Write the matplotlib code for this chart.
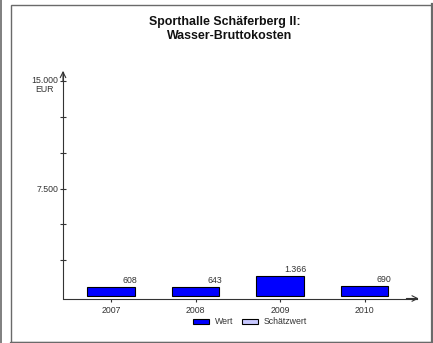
import matplotlib.pyplot as plt
from matplotlib.patches import Patch, Rectangle
from matplotlib.lines import Line2D

plt.rcParams['font.family'] = ['Liberation Sans', 'DejaVu Sans']

# data
years = ['2007', '2008', '2009', '2010']
wert = [608, 643, 1366, 690]
value_labels = ['608', '643', '1.366', '690']
y_ticks = [2500, 5000, 7500, 10000, 12500, 15000]
y_tick_labels = ['', '', '7.500', '', '', '']

W, H = 433, 343
fig = plt.figure(figsize=(W / 100, H / 100), dpi=100)

# outer frame lines
frame_col = '#6a6a6a'
fig.add_artist(Line2D([0.8 / W, 0.8 / W], [0, 1], color=frame_col, lw=1.2))
fig.add_artist(Rectangle((10.5 / W, 1 - 342 / H), (431.5 - 10.5) / W, (342 - 4.5) / H,
                         transform=fig.transFigure, fill=False, edgecolor=frame_col, lw=1.0))
fig.add_artist(Line2D([432 / W, 432 / W], [1 - 342.5 / H, 1 - 4 / H], color=frame_col, lw=1.6))
fig.add_artist(Line2D([10.5 / W, 432.5 / W], [1 - 342.5 / H, 1 - 342.5 / H], color=frame_col, lw=1.6))

ax = fig.add_axes([63 / W, 44.5 / H, (417 - 63) / W, (298.5 - 72) / H])
ax.patch.set_alpha(0)

x = range(len(years))
bars = ax.bar(x, wert, width=0.56, color='#0000ff', edgecolor='black', linewidth=0.8)
ax.set_xlim(-0.567, 3.617)
ax.set_ylim(-175, 15630)

for b, lab in zip(bars, value_labels):
    ax.annotate(lab, (b.get_x() + b.get_width(), b.get_height()), xytext=(2, 1.5),
                textcoords='offset points', ha='right', va='bottom', fontsize=6.3, color='#333333')

for s in ['top', 'right']:
    ax.spines[s].set_visible(False)
for s in ['left', 'bottom']:
    ax.spines[s].set_color('#333333')
    ax.spines[s].set_linewidth(0.8)

# arrow heads on the axes
ax.annotate('', xy=(1.005, 0), xytext=(0.97, 0), xycoords='axes fraction',
            arrowprops=dict(arrowstyle='->', color='#333333', lw=0.8, shrinkA=0, shrinkB=0))
ax.annotate('', xy=(0, 1.005), xytext=(0, 0.96), xycoords='axes fraction',
            arrowprops=dict(arrowstyle='->', color='#333333', lw=0.8, shrinkA=0, shrinkB=0))

ax.set_xticks(list(x))
ax.set_xticklabels(years, fontsize=6.3, color='#333333')
ax.tick_params(axis='x', direction='out', length=2.5, width=0.8, pad=3, color='#333333')
ax.set_yticks(y_ticks)
ax.set_yticklabels(y_tick_labels, fontsize=6.3, color='#333333')
ax.tick_params(axis='y', direction='inout', length=4.5, width=0.8, pad=1, color='#333333')
# top label with unit underneath
ax.annotate('15.000\nEUR', (0, 15000), xycoords=('axes fraction', 'data'), xytext=(-3.5, 3.5),
            textcoords='offset points', ha='right', va='top', multialignment='center',
            fontsize=6.3, color='#333333', linespacing=1.0)

fig.text(225 / W, 1 - 25 / H, 'Sporthalle Schäferberg II:', ha='center', va='baseline',
         fontsize=8.9, fontweight='bold', color='#111111')
fig.text(229.5 / W, 1 - 39 / H, 'Wasser-Bruttokosten', ha='center', va='baseline',
         fontsize=8.9, fontweight='bold', color='#111111')

handles = [Patch(facecolor='#0000ff', edgecolor='black', lw=0.8, label='Wert'),
           Patch(facecolor='#c8c8ff', edgecolor='black', lw=0.8, label='Schätzwert')]
fig.legend(handles=handles, loc='center', bbox_to_anchor=(250 / W, 1 - 322 / H), ncol=2,
           frameon=False, fontsize=6.3, handlelength=1.83, handleheight=0.46,
           handletextpad=0.68, columnspacing=1.0, labelcolor='#333333')

fig.savefig('out.png', dpi=100)
